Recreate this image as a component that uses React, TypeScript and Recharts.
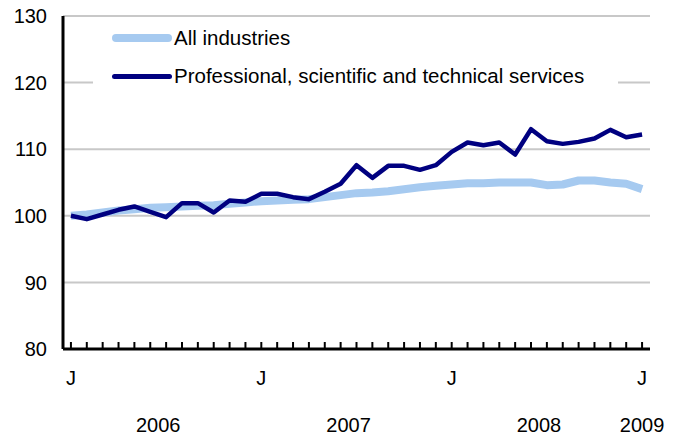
import { LineChart, Line, XAxis, YAxis, CartesianGrid, Legend } from "recharts";

// monthly index, Jan 2006 = 100
const monthLetters = ["J", "F", "M", "A", "M", "J", "J", "A", "S", "O", "N", "D"];

const allIndustries = [
  100.0, 100.2, 100.5, 100.8, 101.0, 101.2, 101.3, 101.4, 101.5, 101.6, 101.8, 102.0,
  102.2, 102.3, 102.4, 102.5, 102.8, 103.1, 103.4, 103.5, 103.7, 104.0, 104.3, 104.5,
  104.7, 104.9, 104.9, 105.0, 105.0, 105.0, 104.6, 104.7, 105.3, 105.3, 105.0, 104.8,
  104.0,
];

const professional = [
  100.0, 99.5, 100.2, 100.9, 101.4, 100.6, 99.8, 101.9, 101.9, 100.5, 102.3, 102.1,
  103.3, 103.3, 102.8, 102.5, 103.6, 104.8, 107.6, 105.7, 107.5, 107.5, 106.9, 107.6,
  109.6, 111.0, 110.6, 111.0, 109.2, 113.0, 111.2, 110.8, 111.1, 111.6, 112.9, 111.8,
  112.2,
];

const yTicks = [80, 90, 100, 110, 120, 130];
const yearTicks = [5.5, 17.5, 29.5, 36];
const yearLabels = ["2006", "2007", "2008", "2009"];

const seriesNames = {
  all: "All industries",
  pro: "Professional, scientific and technical services",
};

const data = allIndustries.map((v, i) => ({
  i,
  month: monthLetters[i % 12],
  all: v,
  pro: professional[i],
}));

const monthTicks = data.map((d) => d.i);

const FONT = '"Liberation Sans", Arial, Helvetica, sans-serif';
const LIGHT = "#a6caf0";
const DARK = "#000080";
const FRAME = { stroke: "#000", strokeWidth: 3 };

function MonthTick(props: any) {
  const { x, y, payload } = props;
  const idx = payload.value as number;
  return (
    <g>
      <line x1={x} x2={x} y1={y} y2={y - 7} stroke="#000" strokeWidth={2} />
      {idx % 12 === 0 && (
        <text x={x} y={y + 36} textAnchor="middle" fontSize={20} fontFamily={FONT} fill="#000">
          {monthLetters[idx % 12]}
        </text>
      )}
    </g>
  );
}

function LegendBox() {
  const rows = [
    { name: seriesNames.all, color: LIGHT, width: 8 },
    { name: seriesNames.pro, color: DARK, width: 5 },
  ];
  return (
    <div style={{ background: "#fff", width: "100%", height: "100%", paddingTop: 1 }}>
      {rows.map((r) => (
        <div key={r.name} style={{ display: "flex", alignItems: "center", height: 38 }}>
          <div
            style={{
              marginLeft: 19,
              width: 60,
              height: r.width,
              borderRadius: r.width / 2,
              background: r.color,
            }}
          />
          <span style={{ marginLeft: 2, fontFamily: FONT, fontSize: 20.5, color: "#000" }}>{r.name}</span>
        </div>
      ))}
    </div>
  );
}

export default function App() {
  return (
    <div style={{ position: "absolute", left: 0, top: 0, width: 684, height: 439, background: "#fff" }}>
      <LineChart width={684} height={439} data={data} margin={{ top: 16, right: 34, left: 0, bottom: 0 }}>
        <CartesianGrid vertical={false} stroke="#c8c8c8" strokeWidth={2} />
        <XAxis
          dataKey="i"
          type="number"
          domain={[-0.5, 36.5]}
          ticks={monthTicks}
          interval={0}
          height={50}
          tickSize={0}
          tickMargin={0}
          tickLine={false}
          stroke="#000"
          axisLine={FRAME}
          tick={<MonthTick />}
        />
        <XAxis
          xAxisId="year"
          dataKey="i"
          type="number"
          domain={[-0.5, 36.5]}
          ticks={yearTicks}
          interval={0}
          height={40}
          tickSize={0}
          tickMargin={19}
          tickLine={false}
          axisLine={false}
          tickFormatter={(v: number) => yearLabels[yearTicks.indexOf(v)]}
          tick={{ fontSize: 20, fontFamily: FONT, fill: "#000" }}
        />
        <XAxis
          xAxisId="top"
          orientation="top"
          type="number"
          domain={[0, 1]}
          height={0}
          tick={false}
          tickLine={false}
          stroke="#000"
          axisLine={FRAME}
        />
        <YAxis
          domain={[80, 130]}
          ticks={yTicks}
          interval={0}
          width={63}
          tickSize={0}
          tickMargin={16}
          tickLine={false}
          stroke="#000"
          axisLine={FRAME}
          tick={{ fontSize: 20, fontFamily: FONT, fill: "#000" }}
        />
        <YAxis
          yAxisId="right"
          orientation="right"
          domain={[0, 1]}
          width={0}
          tick={false}
          tickLine={false}
          stroke="#000"
          axisLine={FRAME}
        />
        <Legend
          layout="horizontal"
          verticalAlign="middle"
          align="center"
          wrapperStyle={{ left: 93, top: 18, width: 525, height: 86 }}
          content={() => <LegendBox />}
        />
        <Line
          dataKey="all"
          name={seriesNames.all}
          stroke={LIGHT}
          strokeWidth={8}
          dot={false}
          strokeLinejoin="round"
          isAnimationActive={false}
        />
        <Line
          dataKey="pro"
          name={seriesNames.pro}
          stroke={DARK}
          strokeWidth={4.5}
          dot={false}
          strokeLinejoin="round"
          isAnimationActive={false}
        />
      </LineChart>
    </div>
  );
}
